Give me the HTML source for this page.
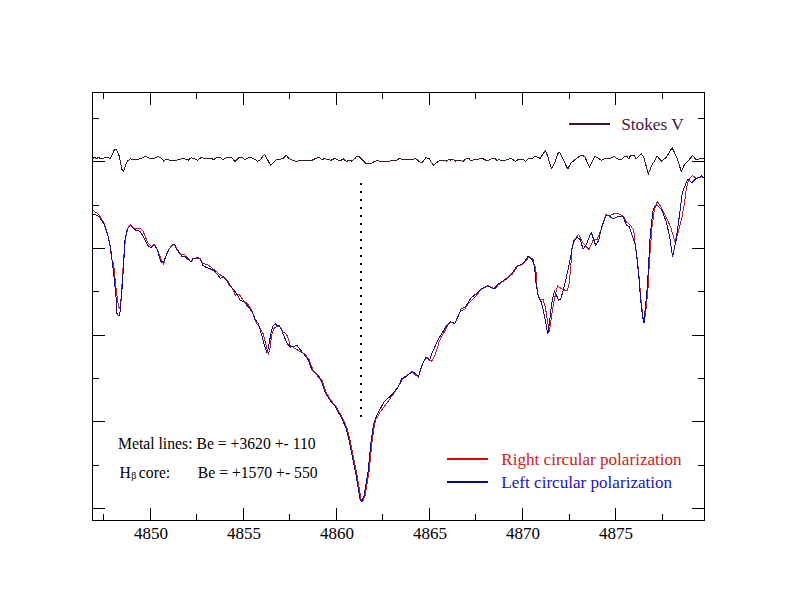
<!DOCTYPE html>
<html><head><meta charset="utf-8"><style>
html,body{margin:0;padding:0;background:#fff;}
body{width:792px;height:612px;overflow:hidden;}
svg{display:block;}
text{font-family:"Liberation Serif",serif;}
</style></head><body>
<svg width="792" height="612" viewBox="0 0 792 612">
<rect width="792" height="612" fill="#fff"/>
<g fill="none" stroke="#000" stroke-width="1" shape-rendering="crispEdges">
<rect x="92.5" y="92.5" width="612" height="428"/>
<path d="M103.5,92.5V98.5M103.5,520.5V513.5M150.5,92.5V104.5M150.5,520.5V507.5M196.5,92.5V98.5M196.5,520.5V513.5M243.5,92.5V104.5M243.5,520.5V507.5M289.5,92.5V98.5M289.5,520.5V513.5M336.5,92.5V104.5M336.5,520.5V507.5M382.5,92.5V98.5M382.5,520.5V513.5M429.5,92.5V104.5M429.5,520.5V507.5M475.5,92.5V98.5M475.5,520.5V513.5M522.5,92.5V104.5M522.5,520.5V507.5M569.5,92.5V98.5M569.5,520.5V513.5M615.5,92.5V104.5M615.5,520.5V507.5M662.5,92.5V98.5M662.5,520.5V513.5M92.5,118.5H98.5M704.5,118.5H697.5M92.5,161.5H104.5M704.5,161.5H691.5M92.5,205.5H98.5M704.5,205.5H697.5M92.5,248.5H104.5M704.5,248.5H691.5M92.5,291.5H98.5M704.5,291.5H697.5M92.5,335.5H104.5M704.5,335.5H691.5M92.5,378.5H98.5M704.5,378.5H697.5M92.5,421.5H104.5M704.5,421.5H691.5M92.5,465.5H98.5M704.5,465.5H697.5M92.5,508.5H104.5M704.5,508.5H691.5"/>
</g>
<g fill="#000"><rect x="360" y="183" width="2" height="2"/><rect x="360" y="191" width="2" height="2"/><rect x="360" y="199" width="2" height="2"/><rect x="360" y="207" width="2" height="2"/><rect x="360" y="215" width="2" height="2"/><rect x="360" y="223" width="2" height="2"/><rect x="360" y="231" width="2" height="2"/><rect x="360" y="239" width="2" height="2"/><rect x="360" y="247" width="2" height="2"/><rect x="360" y="255" width="2" height="2"/><rect x="360" y="263" width="2" height="2"/><rect x="360" y="271" width="2" height="2"/><rect x="360" y="279" width="2" height="2"/><rect x="360" y="287" width="2" height="2"/><rect x="360" y="295" width="2" height="2"/><rect x="360" y="303" width="2" height="2"/><rect x="360" y="311" width="2" height="2"/><rect x="360" y="319" width="2" height="2"/><rect x="360" y="327" width="2" height="2"/><rect x="360" y="335" width="2" height="2"/><rect x="360" y="343" width="2" height="2"/><rect x="360" y="351" width="2" height="2"/><rect x="360" y="359" width="2" height="2"/><rect x="360" y="367" width="2" height="2"/><rect x="360" y="375" width="2" height="2"/><rect x="360" y="383" width="2" height="2"/><rect x="360" y="391" width="2" height="2"/><rect x="360" y="399" width="2" height="2"/><rect x="360" y="407" width="2" height="2"/><rect x="360" y="415" width="2" height="2"/></g>
<g fill="none" stroke-width="1" stroke-linejoin="round" shape-rendering="crispEdges">
<polyline stroke="#3a1632" points="92.5,158.5 94.5,157.5 96.5,158.5 98.5,157.5 100.5,158.5 103.5,158.5 104.5,157.5 108.5,157.5 110.2,158.5 111.7,156.1 113.7,151.1 114.7,149.5 116.3,149.5 117.5,151.6 118.8,154.6 119.8,159.1 120.8,164.2 121.8,169.2 123.3,171.5 124.8,167.7 126.4,162.7 127.9,160.7 130.4,158.9 135.5,159.6 140.5,158.7 145.6,156.4 149.3,158.3 154.4,158.3 158.2,156.4 160.7,157.7 163.9,161.2 165.8,159.6 170.8,160.2 177.1,160.0 183.4,158.3 188.2,160.2 191.3,157.7 194.5,158.7 197.6,160.2 201.4,157.4 203.9,158.3 211.5,158.3 213.4,159.6 217.2,157.3 220.4,157.7 222.9,159.6 225.4,158.3 228.6,157.3 231.7,157.7 234.9,161.5 239.3,157.3 242.4,157.7 245.0,160.2 246.9,158.3 250.7,157.3 253.8,158.7 257.6,161.2 260.1,160.2 264.5,154.1 270.6,165.3 273.4,162.5 276.5,159.6 279.7,159.6 283.2,158.3 286.3,155.4 288.8,158.3 292.6,160.2 297.0,161.5 298.9,160.2 312.2,160.2 316.0,158.3 318.5,157.3 322.3,159.6 324.8,158.3 327.3,159.6 331.1,160.2 334.9,158.3 338.7,160.2 341.2,160.2 343.1,158.7 346.3,161.5 349.4,160.2 351.3,161.2 354.5,158.9 357.0,156.2 359.5,157.0 365.9,163.4 370.9,163.4 373.4,162.1 377.9,160.2 380.0,161.5 388.9,161.5 391.4,160.2 396.5,160.2 399.6,158.3 402.1,159.3 413.5,159.3 415.4,158.3 419.8,162.1 422.3,162.5 426.1,157.4 429.3,158.9 433.3,165.3 438.1,161.5 441.3,160.2 444.4,160.2 446.3,161.2 448.9,159.3 450.8,160.2 452.7,159.3 455.8,161.2 458.3,160.2 463.4,161.2 466.5,158.3 469.1,158.7 471.0,160.8 473.2,159.9 476.3,159.6 482.0,158.3 485.8,160.2 488.9,160.2 492.7,158.3 495.3,158.9 497.1,160.5 499.0,159.6 500.9,160.2 505.4,160.2 507.9,159.2 511.7,158.7 515.5,161.5 518.6,159.3 523.0,159.6 525.6,161.2 528.7,158.3 531.9,158.9 535.0,156.2 536.9,156.8 540.1,158.3 545.5,150.4 547.7,156.4 551.4,168.4 554.6,163.4 558.4,152.4 560.3,153.3 567.7,169.0 570.7,163.4 575.1,159.6 580.2,155.8 582.0,155.2 584.6,156.5 589.6,167.2 594.7,156.7 597.2,157.5 601.6,160.3 605.4,158.4 608.6,159.0 614.2,156.5 618.0,159.2 621.8,159.2 624.3,156.5 626.9,156.5 628.8,159.0 630.7,155.2 633.8,155.2 636.3,159.0 641.4,153.7 643.9,157.7 648.3,174.1 651.8,165.4 657.2,156.3 661.5,161.1 666.3,157.4 672.2,147.7 676.5,156.8 681.3,171.3 684.6,164.3 688.3,160.6 692.6,155.5 695.8,159.5 699.0,159.0 703.9,158.1"/>
<polyline stroke="#b82020" points="92.9,210.3 98.8,214.5 103.7,222.5 107.2,232.4 109.6,242.2 111.6,258.8 113.6,264.0 115.2,280.0 116.8,295.0 118.2,304.5 119.3,308.8 120.3,306.5 121.2,297.0 122.3,280.0 123.4,262.0 124.5,248.0 125.8,237.0 127.7,228.4 130.4,224.7 133.1,227.6 137.1,228.9 140.0,228.3 142.9,230.8 147.8,243.0 151.3,246.5 154.7,244.0 158.6,252.4 161.6,261.2 163.5,264.1 166.0,256.3 169.4,248.4 173.3,244.0 176.8,248.4 180.2,253.8 184.6,254.8 188.5,258.7 191.0,262.2 193.4,258.7 195.0,258.8 199.9,258.3 202.8,263.2 208.7,265.2 214.6,270.1 218.5,273.5 223.4,277.0 227.4,280.4 233.2,290.2 235.2,295.1 239.1,294.1 243.0,300.0 247.9,304.4 251.6,310.0 253.7,316.5 256.5,323.1 259.8,328.0 263.1,333.7 265.5,342.7 268.4,354.1 270.0,348.4 271.7,334.5 273.7,328.8 276.1,326.7 278.2,325.9 280.6,327.2 282.7,331.7 285.1,333.3 287.6,336.1 290.0,345.1 294.1,348.0 299.0,350.8 305.2,354.4 309.1,359.6 313.0,370.1 317.6,374.6 322.1,380.5 326.1,392.3 331.3,400.8 336.5,406.7 339.8,413.2 343.1,419.1 347.2,428.6 350.3,441.0 353.4,456.6 356.5,472.1 358.9,486.1 361.2,500.1 362.7,501.6 365.1,495.4 367.4,481.4 369.0,472.1 370.5,456.6 372.1,441.0 374.4,425.5 375.7,419.8 379.8,412.5 385.0,405.4 390.9,397.5 397.5,388.2 402.7,378.4 411.8,371.9 418.4,377.3 422.3,364.8 424.9,359.6 427.5,357.6 431.4,361.6 435.4,354.4 439.3,341.3 447.5,325.8 450.7,322.4 454.8,323.6 458.0,316.2 460.5,311.3 464.6,309.3 468.7,303.2 472.0,299.9 476.0,295.8 481.8,289.0 488.4,285.8 494.9,289.0 498.2,284.9 506.4,279.2 512.9,273.5 517.8,266.1 522.7,264.5 526.0,261.2 529.2,256.3 533.3,259.6 535.1,270.0 535.6,266.3 537.4,292.9 539.7,299.1 543.1,299.7 545.4,307.7 549.3,332.0 551.1,319.1 554.0,300.9 557.4,286.0 562.0,288.9 567.1,291.1 568.9,284.9 570.6,270.0 572.1,246.8 575.0,239.4 578.7,234.3 583.1,243.1 589.0,249.7 593.4,239.4 597.1,239.4 600.7,230.6 603.5,222.0 605.9,214.7 609.8,215.7 615.2,213.2 618.1,213.7 623.5,216.2 627.0,222.5 629.9,224.5 633.8,230.4 634.8,243.1 637.3,258.8 639.1,276.8 640.9,298.8 642.8,316.5 644.2,322.0 645.6,313.5 647.8,291.5 649.6,258.8 652.0,227.5 654.4,209.3 657.4,201.5 661.4,207.5 666.3,217.3 671.2,228.7 674.8,241.8 677.8,233.6 681.9,217.3 683.5,208.0 684.4,204.2 685.7,192.5 687.6,183.3 689.6,178.7 692.5,175.5 695.2,177.7 696.1,178.4 698.8,177.7 701.4,176.8 704.0,177.7"/>
<polyline stroke="#10108c" points="92.9,214.2 96.9,215.2 99.8,217.6 103.7,223.5 107.6,234.3 110.6,248.0 113.2,269.4 114.7,284.1 116.2,298.8 116.9,313.5 118.4,315.7 119.6,315.7 120.6,306.2 121.8,291.5 122.8,276.8 123.8,262.0 124.8,241.2 126.8,230.4 128.2,227.9 130.2,225.5 132.2,227.5 136.1,230.4 140.0,231.3 143.9,237.6 147.8,245.5 150.8,247.5 154.2,245.0 157.2,249.4 159.1,256.3 161.1,262.2 164.0,261.2 166.5,254.3 169.4,248.4 172.8,245.0 174.3,244.0 176.8,249.4 182.2,256.8 185.1,256.8 189.0,260.2 191.0,261.7 192.9,258.7 198.4,257.4 200.4,259.3 202.8,265.2 205.8,267.2 210.7,269.1 214.6,271.1 220.5,278.4 223.9,276.5 226.4,280.4 230.3,286.3 234.2,290.2 237.2,294.6 240.1,300.0 244.0,302.0 247.9,306.4 250.8,310.0 253.3,314.9 255.7,320.2 258.2,323.1 260.6,331.2 263.1,340.2 265.1,347.6 266.7,352.1 268.4,347.6 270.0,338.6 271.7,330.0 272.9,326.3 275.3,323.5 276.6,325.1 279.0,325.5 281.5,329.6 284.3,337.0 287.6,344.3 290.8,347.2 293.3,346.4 297.0,345.5 299.4,348.8 304.2,354.4 308.1,359.6 312.0,370.1 316.6,374.6 321.1,380.5 325.1,392.3 330.3,400.8 335.5,406.7 338.8,413.2 342.1,419.1 346.2,428.6 349.3,441.0 352.4,456.6 355.5,472.1 357.9,486.1 360.2,500.1 361.7,501.6 364.1,495.4 366.4,481.4 368.0,472.1 369.5,456.6 371.1,441.0 373.4,425.5 375.2,419.1 379.2,410.6 384.4,401.4 389.6,396.9 393.5,392.9 397.5,387.7 402.0,378.6 404.6,377.9 408.6,374.6 412.5,371.4 415.8,374.0 418.4,376.6 421.0,368.1 423.6,361.6 426.2,357.0 429.5,360.9 432.1,353.1 434.7,347.2 438.0,340.0 440.0,336.4 446.5,325.8 450.6,321.7 454.7,323.3 458.0,316.8 461.2,308.6 465.3,307.0 471.0,298.0 475.9,293.9 480.8,289.0 487.4,285.8 493.9,289.0 497.2,284.9 505.4,279.2 511.9,273.5 516.8,266.1 521.7,264.5 525.0,261.2 528.2,256.3 532.3,259.6 534.6,266.3 535.7,281.4 538.0,295.1 539.7,299.7 541.4,302.0 543.7,312.3 546.0,323.7 547.8,334.0 549.4,323.7 551.7,303.1 554.6,290.6 558.6,300.3 560.9,298.6 564.3,286.0 567.6,271.8 570.6,257.1 573.5,240.9 577.2,237.2 580.1,239.4 583.1,249.0 586.0,245.3 591.2,232.1 595.6,245.3 598.5,240.9 601.5,227.6 605.9,215.9 608.8,215.7 611.8,218.1 615.2,218.1 618.1,216.2 623.0,216.7 626.5,225.0 629.4,227.0 632.4,236.3 635.3,244.1 636.6,254.7 638.8,276.8 640.6,298.8 642.5,316.5 644.0,323.1 644.8,313.5 646.9,291.5 648.4,269.4 649.9,240.0 651.6,222.2 653.3,209.1 655.7,205.0 659.0,206.7 662.3,210.8 666.3,222.2 669.6,236.3 672.6,256.5 676.1,240.2 679.4,215.7 682.1,194.4 684.1,187.9 686.3,182.6 688.3,179.1 690.3,181.7 692.2,182.3 695.8,178.7 697.5,177.7 700.1,177.7 701.4,175.8 704.0,177.7"/>
</g>
<g font-size="17" fill="#000"><text x="150.96" y="539" text-anchor="middle">4850</text><text x="243.95" y="539" text-anchor="middle">4855</text><text x="336.94" y="539" text-anchor="middle">4860</text><text x="429.93" y="539" text-anchor="middle">4865</text><text x="522.92" y="539" text-anchor="middle">4870</text><text x="615.91" y="539" text-anchor="middle">4875</text></g>
<line x1="569" y1="124" x2="610" y2="124" stroke="#3a1632" stroke-width="2"/>
<text x="621.2" y="129.6" font-size="17.25" fill="#4a1440">Stokes V</text>
<line x1="447" y1="459" x2="488" y2="459" stroke="#d80404" stroke-width="2"/>
<text x="501.3" y="464.7" font-size="17.1" fill="#d02020">Right circular polarization</text>
<line x1="447" y1="482" x2="488" y2="482" stroke="#06069a" stroke-width="2"/>
<text x="501.3" y="488.2" font-size="17.1" fill="#1818c0">Left circular polarization</text>
<g font-size="15.7" fill="#000">
<text x="118" y="449">Metal lines: Be = +3620 +- 110</text>
<text x="119.5" y="478">H<tspan font-size="10" dy="0.8" dx="0.5">&#946;</tspan><tspan dy="-0.8" dx="-1.5"> core:</tspan></text>
<text x="197.8" y="478">Be = +1570 +- 550</text>
</g>
</svg>
</body></html>
